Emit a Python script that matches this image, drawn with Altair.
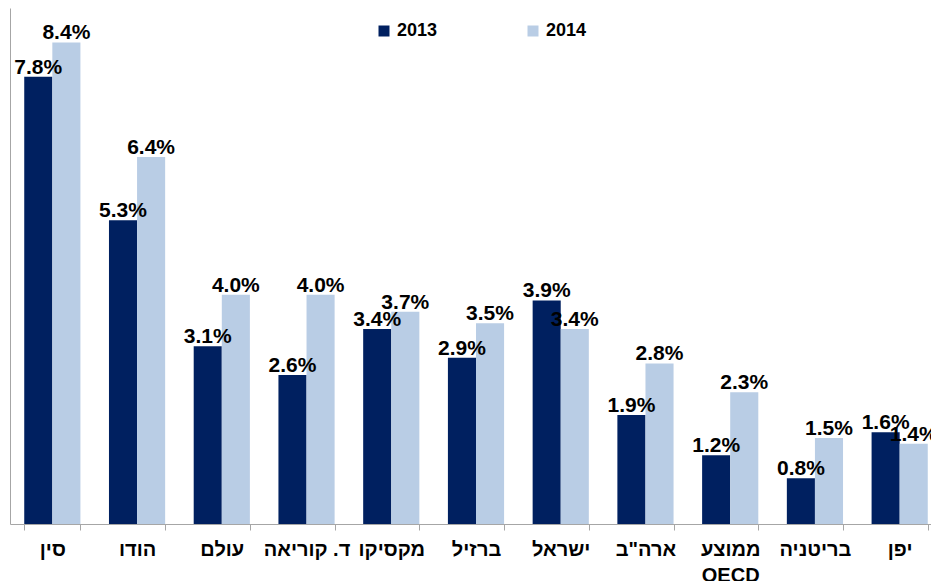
import altair as alt
import pandas as pd

categories = ["סין", "הודו", "עולם", "ד. קוריאה", "מקסיקו", "ברזיל", "ישראל",
              'ארה"ב', "ממוצע OECD", "בריטניה", "יפן"]
values_2013 = [7.8, 5.3, 3.1, 2.6, 3.4, 2.9, 3.9, 1.9, 1.2, 0.8, 1.6]
values_2014 = [8.4, 6.4, 4.0, 4.0, 3.7, 3.5, 3.4, 2.8, 2.3, 1.5, 1.4]
years = ["2013", "2014"]
colors = ["#002060", "#B9CDE5"]

rows = []
for c, a, b in zip(categories, values_2013, values_2014):
    rows.append({"cat": c, "year": years[0], "v": a})
    rows.append({"cat": c, "year": years[1], "v": b})
df = pd.DataFrame(rows)
df["label"] = df["v"].map(lambda v: f"{v:.1f}%")

FONT = "Liberation Sans, Arial, DejaVu Sans"
GRAY = "#A6A6A6"

x = alt.X(
    "cat:N",
    sort=categories,
    scale=alt.Scale(paddingInner=0.337, paddingOuter=0.168, range=[0, 932]),
    axis=alt.Axis(
        title=None, labelAngle=0, labelFont=FONT, labelFontSize=20,
        labelFontWeight="bold", labelColor="black", tickBand="extent",
        tickSize=6, tickColor=GRAY, domainColor=GRAY, labelPadding=9,
        labelLineHeight=26, grid=False,
        labelExpr="datum.label == 'ממוצע OECD' ? ['ממוצע', 'OECD'] : datum.label",
    ),
)
xo = alt.XOffset("year:N", sort=years, scale=alt.Scale(paddingInner=0, paddingOuter=0))
y = alt.Y(
    "v:Q",
    scale=alt.Scale(domain=[0, 9], nice=False),
    axis=alt.Axis(title=None, labels=False, ticks=False, grid=False, domainColor=GRAY),
)

base = alt.Chart(df)
bars = base.mark_bar().encode(
    x=x, xOffset=xo, y=y,
    color=alt.Color(
        "year:N",
        scale=alt.Scale(domain=years, range=colors),
        legend=alt.Legend(
            title=None, orient="none", direction="horizontal",
            legendX=365, legendY=14, symbolType="square", symbolSize=121,
            symbolStrokeWidth=0, labelFontSize=18, labelFontWeight="bold",
            labelFont=FONT, labelColor="black", columnPadding=86, labelOffset=4,
        ),
    ),
)
texts = base.mark_text(
    baseline="alphabetic", dy=-3, fontSize=21, fontWeight="bold", font=FONT, color="black"
).encode(x=x, xOffset=xo, y=y, text="label:N")

chart = alt.layer(bars, texts).properties(
    width=921, height=516,
    padding={"left": 2, "top": 0, "right": 0, "bottom": 57},
    autosize=alt.AutoSizeParams(type="none"),
).configure_view(stroke=None)

chart.save("out.html", embed_options={"renderer": "svg", "actions": False})
